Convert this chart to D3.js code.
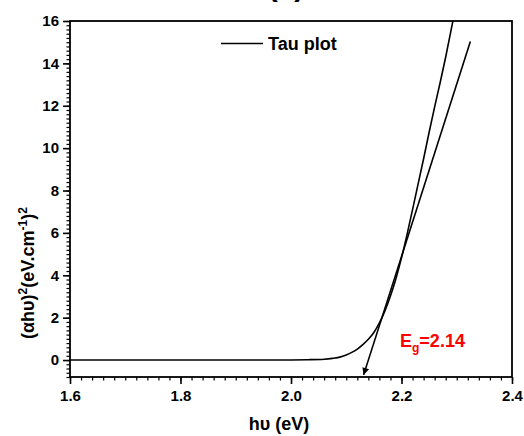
<!DOCTYPE html>
<html>
<head>
<meta charset="utf-8">
<script src="https://cdn.jsdelivr.net/npm/d3@7"></script>
<style>
  html, body { margin: 0; padding: 0; background: #fff; }
  svg { display: block; font-family: "Liberation Sans", Arial, sans-serif; }
</style>
</head>
<body>
<svg id="chart" width="524" height="436"></svg>
<script>
// Photon energy (eV) and (αhυ)² values of the Tauc curve
const energy = [1.60, 1.70, 1.80, 1.90, 2.00, 2.03, 2.06, 2.075, 2.09, 2.10, 2.11, 2.12, 2.13,
                2.14, 2.15, 2.16, 2.17, 2.18, 2.19, 2.20, 2.21, 2.22, 2.23, 2.24, 2.25,
                2.26, 2.27, 2.28, 2.293];
const tauc   = [0, 0, 0, 0, 0.005, 0.015, 0.04, 0.08, 0.15, 0.24, 0.36, 0.52, 0.73,
                0.98, 1.30, 1.75, 2.32, 3.02, 3.85, 4.82, 5.92, 7.10, 8.30, 9.50, 10.75,
                11.95, 13.10, 14.30, 16.0];

// Linear extrapolation to the energy axis
const bandGap = 2.14;
const fitSlope = 81.4;
const fitEnds = [15.03, -0.70];   // (αhυ)² at the two ends of the fit line

const xTicks = [1.6, 1.8, 2.0, 2.2, 2.4];
const yTicks = [0, 2, 4, 6, 8, 10, 12, 14, 16];
const legendLabel = "Tau plot";

const svg = d3.select("#chart");
const L = 70, R = 512, T = 21, B = 377;

const x = d3.scaleLinear().domain([1.6, 2.4]).range([L, R]);
const y = d3.scaleLinear().domain([-0.8, 16]).range([B, T]);

// panel letter sitting above the top edge of the page
svg.append("text").attr("x", 286).attr("y", -4).attr("text-anchor", "middle")
  .attr("font-size", 30).attr("font-weight", "bold").text("(a)");

// minor ticks
const xMinor = d3.range(0, 41).map(i => 1.6 + i * 0.02);
const yMinor = d3.range(0, 85).map(i => -0.8 + i * 0.2);

svg.append("g").attr("transform", `translate(0,${B})`)
  .call(d3.axisBottom(x).tickValues(xMinor).tickSize(3.5).tickFormat(""))
  .call(g => g.select(".domain").remove())
  .selectAll("line").attr("stroke-width", 1.2);

svg.append("g").attr("transform", `translate(${L},0)`)
  .call(d3.axisLeft(y).tickValues(yMinor).tickSize(3.5).tickFormat(""))
  .call(g => g.select(".domain").remove())
  .selectAll("line").attr("stroke-width", 1.2);

// major ticks with labels
const xAxis = svg.append("g").attr("transform", `translate(0,${B})`)
  .call(d3.axisBottom(x).tickValues(xTicks).tickSize(7).tickPadding(6).tickFormat(d3.format(".1f")));
xAxis.select(".domain").remove();
xAxis.selectAll("line").attr("stroke-width", 1.6);
xAxis.selectAll("text").attr("font-size", 15).attr("font-weight", "bold").attr("fill", "#000")
  .attr("font-family", "Liberation Sans, Arial, sans-serif");

const yAxis = svg.append("g").attr("transform", `translate(${L},0)`)
  .call(d3.axisLeft(y).tickValues(yTicks).tickSize(7).tickPadding(4).tickFormat(d3.format("d")));
yAxis.select(".domain").remove();
yAxis.selectAll("line").attr("stroke-width", 1.6);
yAxis.selectAll("text").attr("font-size", 15).attr("font-weight", "bold").attr("fill", "#000")
  .attr("font-family", "Liberation Sans, Arial, sans-serif");

// frame around the plot
svg.append("rect").attr("x", L).attr("y", T).attr("width", R - L).attr("height", B - T)
  .attr("fill", "none").attr("stroke", "#000").attr("stroke-width", 1.8);

// Tauc curve
const line = d3.line().x(d => x(d[0])).y(d => y(d[1])).curve(d3.curveMonotoneX);
svg.append("path").datum(energy.map((e, i) => [e, tauc[i]]))
  .attr("d", line).attr("fill", "none").attr("stroke", "#000").attr("stroke-width", 1.6);

// arrowhead marker
svg.append("defs").append("marker").attr("id", "arrow")
  .attr("viewBox", "0 0 10 10").attr("refX", 10).attr("refY", 5)
  .attr("markerWidth", 11).attr("markerHeight", 7).attr("markerUnits", "userSpaceOnUse")
  .attr("orient", "auto")
  .append("path").attr("d", "M0,0 L10,5 L0,10 Z").attr("fill", "#000");

// extrapolated fit line ending in an arrow on the energy axis
const fitPts = fitEnds.map(v => [bandGap + v / fitSlope, v]);
svg.append("line")
  .attr("x1", x(fitPts[0][0])).attr("y1", y(fitPts[0][1]))
  .attr("x2", x(fitPts[1][0])).attr("y2", y(fitPts[1][1]))
  .attr("stroke", "#000").attr("stroke-width", 1.6).attr("marker-end", "url(#arrow)");

// band-gap label
const eg = svg.append("text").attr("x", 400).attr("y", 347)
  .attr("font-size", 18).attr("font-weight", "bold").attr("fill", "#ff0000");
eg.append("tspan").text("E");
eg.append("tspan").attr("font-size", 12).attr("dy", 5).text("g");
eg.append("tspan").attr("dy", -5).text("=" + bandGap.toFixed(2));

// legend
svg.append("line").attr("x1", 221).attr("x2", 263).attr("y1", 43.5).attr("y2", 43.5)
  .attr("stroke", "#000").attr("stroke-width", 1.6);
svg.append("text").attr("x", 268).attr("y", 49.5).attr("font-size", 18).attr("font-weight", "bold")
  .text(legendLabel);

// axis titles
svg.append("text").attr("x", (L + R) / 2 - 12).attr("y", 430).attr("text-anchor", "middle")
  .attr("font-size", 18).attr("font-weight", "bold").text("hυ (eV)");

const yt = svg.append("text").attr("transform", "translate(34,273) rotate(-90)")
  .attr("text-anchor", "middle").attr("font-size", 18).attr("font-weight", "bold");
yt.append("tspan").text("(αhυ)");
yt.append("tspan").attr("font-size", 12).attr("dy", -7).text("2");
yt.append("tspan").attr("dy", 7).text("(eV.cm");
yt.append("tspan").attr("font-size", 12).attr("dy", -7).text("-1");
yt.append("tspan").attr("dy", 7).text(")");
yt.append("tspan").attr("font-size", 12).attr("dy", -7).text("2");
</script>
</body>
</html>
